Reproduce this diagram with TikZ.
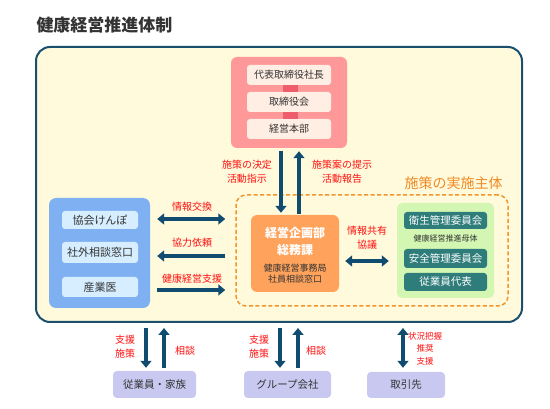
\documentclass[tikz,border=0pt]{standalone}
\usepackage{fontspec}
\setmainfont{Noto Sans CJK JP}
\usetikzlibrary{arrows.meta,calc}
\definecolor{titlec}{HTML}{333333}
\definecolor{mainborder}{HTML}{1A4F6E}
\definecolor{mainfill}{HTML}{FFFADC}
\definecolor{pinkout}{HTML}{FF9999}
\definecolor{pinkin}{HTML}{FFEEE4}
\definecolor{pinkbar}{HTML}{EE5C6E}
\definecolor{orangebox}{HTML}{FFA35C}
\definecolor{orangedash}{HTML}{F0962D}
\definecolor{orangetext}{HTML}{F08A24}
\definecolor{greenfill}{HTML}{D3F7B3}
\definecolor{tealbox}{HTML}{2E7D7A}
\definecolor{bluefill}{HTML}{7FB1F2}
\definecolor{bluein}{HTML}{D6EEFF}
\definecolor{lavender}{HTML}{C8C8F0}
\definecolor{arrowc}{HTML}{0F4C6F}
\definecolor{lblred}{HTML}{FF1010}
\definecolor{darktext}{HTML}{333333}
\tikzset{
  box/.style={draw=none, inner sep=0pt, anchor=center},
  arr/.style={line width=4.5pt, draw=arrowc, -{Triangle[length=7pt,width=11pt]}},
  darr/.style={line width=4.5pt, draw=arrowc, {Triangle[length=7pt,width=11pt]}-{Triangle[length=7pt,width=11pt]}},
  redlbl/.style={text=lblred, font=\fontsize{10}{14}\selectfont, align=center, inner sep=0pt},
  smallred/.style={text=lblred, font=\fontsize{8.5}{12.5}\selectfont, align=center, inner sep=0pt},
  pinkinner/.style={box, fill=pinkin, rounded corners=3pt, minimum width=84pt, text=darktext, font=\fontsize{10}{12}\selectfont},
  blueinner/.style={box, fill=bluein, rounded corners=3pt, minimum width=76pt, text=darktext, font=\fontsize{11}{13}\selectfont},
  tealinner/.style={box, fill=tealbox, rounded corners=3pt, minimum width=83pt, text=white, font=\fontsize{10.5}{12}\selectfont},
  bottombox/.style={box, fill=lavender, rounded corners=4pt, minimum height=27pt, text=darktext, font=\fontsize{10.5}{12}\selectfont},
}
\begin{document}
\begin{tikzpicture}[x=1pt,y=-1pt]
\useasboundingbox (0,0) rectangle (550,409);
\fill[white] (0,0) rectangle (550,409);

% title
\node[inner sep=0pt, text=titlec, font=\fontsize{17}{20}\selectfont\bfseries] (title) at (104.5,25) {健康経営推進体制};

% main frame
\node[box, draw=mainborder, line width=2pt, fill=mainfill, rounded corners=14pt, minimum width=486pt, minimum height=275pt] (main) at (279,184.5) {};

% top pink block
\node[box, fill=pinkout, rounded corners=6pt, minimum width=116pt, minimum height=91pt] (pink) at (289,102.5) {};
\coordinate (bx1) at (283,0);
\coordinate (bx2) at (298,0);
\node[pinkinner, minimum height=20pt] (p1) at (289,75) {代表取締役社長};
\node[pinkinner, minimum height=20pt] (p2) at (289,102) {取締役会};
\node[pinkinner, minimum height=20pt] (p3) at (289,129) {経営本部};
\fill[pinkbar] (p1.south -| bx1) rectangle (p2.north -| bx2);
\fill[pinkbar] (p2.south -| bx1) rectangle (p3.north -| bx2);

% dashed implementation frame
\node[box, draw=orangedash, dash pattern=on 4pt off 2.5pt, line width=1.5pt, rounded corners=10pt, minimum width=272pt, minimum height=111pt] (dash) at (372,250.5) {};
\node[inner sep=0pt, text=orangetext, font=\fontsize{14}{16}\selectfont] (implabel) at (453.5,183) {施策の実施主体};

% orange central node
\node[box, fill=orangebox, rounded corners=6pt, minimum width=88pt, minimum height=77pt] (og) at (295,253.5) {};
\node[inner sep=0pt, text=white, align=center, font=\fontsize{12}{17}\selectfont\bfseries] (ogt) at (295,241.5) {経営企画部\\総務課};
\node[inner sep=0pt, text=darktext, align=center, font=\fontsize{9}{11.5}\selectfont] (ogs) at (295,273.5) {健康経営事務局\\社員相談窓口};

% green block
\node[box, fill=greenfill, rounded corners=5pt, minimum width=97pt, minimum height=95pt] (green) at (445.5,250.5) {};
\node[tealinner, minimum height=17pt] (g1) at (445.5,220.5) {衛生管理委員会};
\node[inner sep=0pt, text=darktext, font=\fontsize{8}{9}\selectfont] (gsub) at (445.5,238) {健康経営推進母体};
\node[tealinner, minimum height=19pt] (g2) at (445.5,258.5) {安全管理委員会};
\node[tealinner, minimum height=18pt] (g3) at (445.5,282) {従業員代表};

% blue block
\node[box, fill=bluefill, rounded corners=7pt, minimum width=101pt, minimum height=110pt] (blue) at (99.5,253) {};
\node[blueinner, minimum height=18pt] (b1) at (100,220) {協会けんぽ};
\node[blueinner, minimum height=21pt] (b2) at (100,252.5) {社外相談窓口};
\node[blueinner, minimum height=20pt] (b3) at (100,287) {産業医};

% bottom boxes
\node[bottombox, minimum width=83pt] (f1) at (154.5,384.5) {従業員・家族};
\node[bottombox, minimum width=87pt] (f2) at (287.5,384.5) {グループ会社};
\node[bottombox, minimum width=78pt, minimum height=26pt] (f3) at (406,385) {取引先};

% arrows pink <-> orange
\coordinate (xd) at (281,0);
\coordinate (xu) at (299,0);
\draw[arr, shorten <=3pt, shorten >=2pt] (pink.south -| xd) -- (og.north -| xd);
\draw[arr, shorten <=1pt, shorten >=3pt] (og.north -| xu) -- (pink.south -| xu);
\node[redlbl] (l1) at (247,172) {施策の決定\\活動指示};
\node[redlbl] (l2) at (342,172) {施策案の提示\\活動報告};

% left arrows
\coordinate (ya) at (0,219);
\coordinate (yb) at (0,256);
\coordinate (yc) at (0,290);
\draw[darr, shorten <=7pt, shorten >=10pt] (blue.east |- ya) -- (dash.west |- ya);
\draw[arr, shorten <=10pt, shorten >=7pt] (dash.west |- yb) -- (blue.east |- yb);
\draw[arr, shorten <=7pt, shorten >=10pt] (blue.east |- yc) -- (dash.west |- yc);
\node[redlbl] (l3) at (192,207) {情報交換};
\node[redlbl] (l4) at (192,243) {協力依頼};
\node[redlbl] (l5) at (192,279) {健康経営支援};

% orange <-> green
\coordinate (ym) at (0,261);
\draw[darr, shorten <=6pt, shorten >=8pt] (og.east |- ym) -- (green.west |- ym);
\node[redlbl] (l6) at (367,237.5) {情報共有\\協議};

% bottom arrows
\coordinate (x1) at (146,0);
\coordinate (x2) at (164,0);
\coordinate (x3) at (280,0);
\coordinate (x4) at (298,0);
\coordinate (x5) at (403,0);
\draw[arr, shorten <=5pt, shorten >=3pt] (main.south -| x1) -- (f1.north -| x1);
\draw[arr, shorten <=3pt, shorten >=5pt] (f1.north -| x2) -- (main.south -| x2);
\draw[arr, shorten <=5pt, shorten >=3pt] (main.south -| x3) -- (f2.north -| x3);
\draw[arr, shorten <=3pt, shorten >=5pt] (f2.north -| x4) -- (main.south -| x4);
\draw[darr, shorten <=5pt, shorten >=4pt] (main.south -| x5) -- (f3.north -| x5);
\node[redlbl] (l7) at (125,346.5) {支援\\施策};
\node[redlbl] (l8) at (185,351) {相談};
\node[redlbl] (l9) at (259,346.5) {支援\\施策};
\node[redlbl] (l10) at (316,351) {相談};
\node[smallred] (l11) at (425,348.5) {状況把握\\推奨\\支援};
\end{tikzpicture}
\end{document}
